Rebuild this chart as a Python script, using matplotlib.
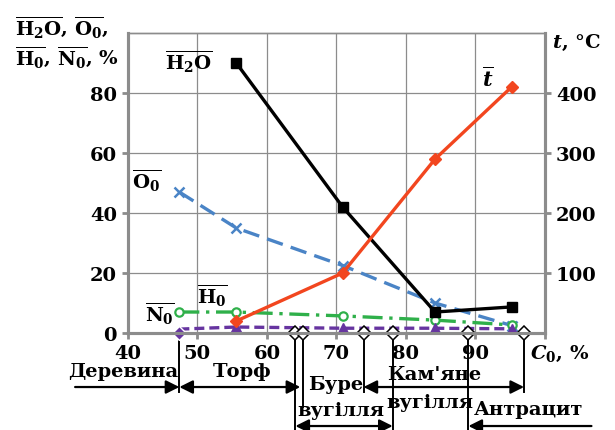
import matplotlib
matplotlib.use("Agg")
import matplotlib.pyplot as plt
import matplotlib.transforms as mtransforms

plt.rcParams['font.family'] = ['DejaVu Serif']
plt.rcParams['font.weight'] = 'bold'
plt.rcParams['mathtext.fontset'] = 'custom'
plt.rcParams['mathtext.rm'] = 'DejaVu Serif:bold'
plt.rcParams['mathtext.it'] = 'DejaVu Serif:italic:bold'
plt.rcParams['mathtext.bf'] = 'DejaVu Serif:bold'

# carbon content C0, % for each fuel sample
c0_all = [47.4, 55.6, 70.9, 84.2, 95.2]
c0_coal = [55.6, 70.9, 84.2, 95.2]

h2o = [90, 42, 7, 8.7]
temp = [20, 100, 290, 410]
o0 = [47, 35, 22.5, 10, 2.5]
h0 = [7, 7, 5.7, 4.3, 2.7]
n0 = [1.3, 2.0, 1.6, 1.6, 1.4]

# boundaries between fuel classes on the C0 axis
bounds = [47.4, 64.1, 65.2, 73.9, 78.1, 89.0, 97.0]

xticks = [40, 50, 60, 70, 80, 90, 100]
xlabels = ['40', '50', '60', '70', '80', '90', '']

grey = '#8c8c8c'
red = '#f2461f'
blue = '#4a84c6'
green = '#2fb04a'
purple = '#6634a0'
fs = 14

fig = plt.figure(figsize=(6.15, 4.31), dpi=100)
ax = fig.add_axes([0.208, 0.225, 0.678, 0.696])
ax2 = ax.twinx()

ax.set_xlim(40, 100)
ax.set_ylim(0, 100)
ax2.set_ylim(0, 500)

ax.grid(True, color=grey, lw=0.9)
ax.set_axisbelow(True)

ax.plot(c0_coal, h2o, color='black', lw=2.4, marker='s', ms=7, zorder=5)
ax2.plot(c0_coal, temp, color=red, lw=2.4, marker='D', ms=6.5, zorder=5)
ax.plot(c0_all, o0, color=blue, lw=2.4, ls=(0, (5, 2.5)), marker='x', ms=7, mew=1.8, zorder=4)
ax.plot(c0_all, h0, color=green, lw=2.4, ls=(0, (6, 2, 1, 2)), marker='o', ms=6,
        mfc='white', mec=green, mew=1.6, zorder=4)
ax.plot(c0_all, n0, color=purple, lw=2.4, ls=(0, (3, 1.5)), marker='^', ms=7,
        markevery=[1, 2, 3, 4], zorder=4)

# class boundary markers on the axis
ax.plot(bounds[:1], [0], marker='D', ms=7, color=purple, mec='white', mew=1, clip_on=False, zorder=6)
ax.plot(bounds[1:], [0] * 6, ls='none', marker='D', ms=7, mfc='white', mec='black', mew=1.1,
        clip_on=False, zorder=6)

ax.set_xticks(xticks)
ax.set_xticklabels(xlabels)
ax.set_yticks([0, 20, 40, 60, 80])
ax2.set_yticks([100, 200, 300, 400])
for a in (ax, ax2):
    a.tick_params(labelsize=fs, color=grey, width=2, length=4, pad=4)
    for s in a.spines.values():
        s.set_color(grey)
        s.set_linewidth(2.2)
    a.spines['top'].set_linewidth(1)

# series labels
ax.text(48.7, 90.7, r'$\overline{\mathrm{H_2O}}$', fontsize=fs, ha='center', va='center')
ax.text(42.7, 51, r'$\overline{\mathrm{O_0}}$', fontsize=fs, ha='center', va='center')
ax.text(52.1, 12.7, r'$\overline{\mathrm{H_0}}$', fontsize=fs, ha='center', va='center')
ax.text(44.6, 6.7, r'$\overline{\mathrm{N_0}}$', fontsize=fs, ha='center', va='center')
ax.text(91.8, 85.3, r'$\overline{t}$', fontsize=fs + 1, ha='center', va='center')

fig.text(15 / 615, 1 - 27 / 431, r'$\overline{\mathrm{H_2O}}$, $\overline{\mathrm{O_0}}$,',
         fontsize=fs, ha='left', va='center')
fig.text(15 / 615, 1 - 57 / 431, r'$\overline{\mathrm{H_0}}$, $\overline{\mathrm{N_0}}$, %',
         fontsize=fs, ha='left', va='center')
fig.text(552 / 615, 1 - 43 / 431, r'$t$, °C', fontsize=fs, ha='left', va='center')

# fuel class ranges below the axis
tr = mtransforms.blended_transform_factory(ax.transData, ax.transAxes)
ax.text(97.8, -0.065, r'$C_0$, %', fontsize=fs, ha='left', va='center', transform=tr)

vlines = [(47.4, -0.197), (64.1, -0.323), (65.2, -0.247), (73.9, -0.197),
          (78.1, -0.323), (89.0, -0.323), (97.0, -0.197)]
for xv, yb in vlines:
    ax.plot([xv, xv], [0, yb], color='black', lw=1.4, transform=tr, clip_on=False, zorder=1)

arrows = [(32.4, 47.4, -0.18, '-|>'), (47.4, 64.8, -0.18, '<|-|>'),
          (64.1, 78.1, -0.31, '<|-|>'), (73.9, 97.0, -0.18, '<|-|>'),
          (106.7, 89.0, -0.31, '-|>')]
for x0, x1, ya, style in arrows:
    ax.annotate('', xy=(x1, ya), xytext=(x0, ya), xycoords=tr, textcoords=tr,
                annotation_clip=False,
                arrowprops=dict(arrowstyle=style, color='black', lw=1.6,
                                mutation_scale=20, shrinkA=0, shrinkB=0))

labels = [(39.3, -0.128, 'Деревина'), (56.4, -0.128, 'Торф'),
          (69.9, -0.17, 'Буре'), (70.7, -0.257, 'вугілля'),
          (84.0, -0.137, "Кам'яне"), (83.4, -0.23, 'вугілля'),
          (97.7, -0.253, 'Антрацит')]
for xl, yl, s in labels:
    ax.text(xl, yl, s, transform=tr, fontsize=fs, ha='center', va='center')

fig.savefig('out.png', dpi=100)
